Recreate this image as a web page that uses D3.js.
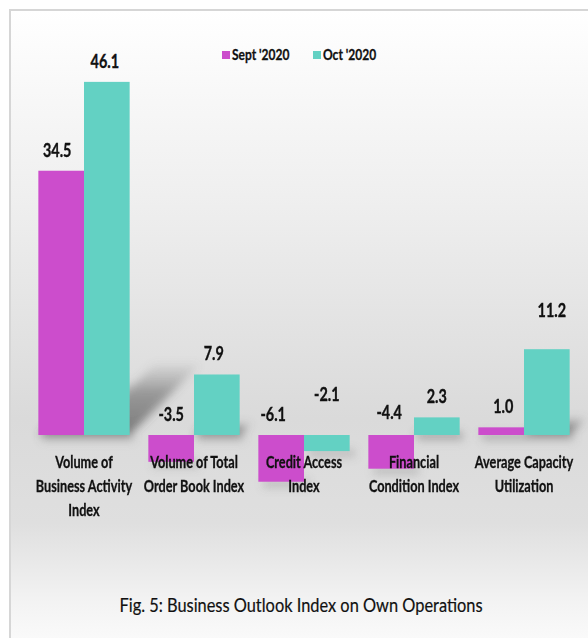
<!DOCTYPE html>
<html>
<head>
<meta charset="utf-8">
<script src="https://cdn.jsdelivr.net/npm/d3@7"></script>
<style>
  html, body { margin: 0; padding: 0; background: #fff; }
  svg { display: block; }
  text { font-family: Lato, "Open Sans", sans-serif; fill: #111; }
</style>
</head>
<body>
<svg id="chart" width="588" height="638"></svg>
<script>
// ---- data ----
const categories = [
  ["Volume of", "Business Activity", "Index"],
  ["Volume of Total", "Order Book Index"],
  ["Credit Access", "Index"],
  ["Financial", "Condition Index"],
  ["Average Capacity", "Utilization"]
];
const seriesNames = ["Sept '2020", "Oct '2020"];
const sept2020 = [34.5, -3.5, -6.1, -4.4, 1.0];
const oct2020  = [46.1, 7.9, -2.1, 2.3, 11.2];
const titleText = "Fig. 5: Business Outlook Index on Own Operations";

// ---- layout / style ----
const W = 588, H = 638;
const colors = ["#cc4dcc", "#63d1c3"];
const SX = 0.77; // horizontal condensing of the font (Calibri-like narrow look)
// label nudges (dx, dy) relative to default placement, per series & category
const labelNudge = [
  [[-4,0],[0,0],[-8,0],[-2,-2],[2,0]],
  [[-2,0],[-3,0],[0,-20],[0,0],[5,-18]]
];

const svg = d3.select("#chart");
const defs = svg.append("defs");

function label(g, x, y, str, size, weight, anchor, sx, stroke) {
  return g.append("text")
    .attr("transform", `translate(${x},${y}) scale(${sx || SX},1)`)
    .attr("text-anchor", anchor || "middle")
    .attr("font-size", size)
    .attr("font-weight", weight || "bold")
    .attr("stroke", stroke ? "#111" : null)
    .attr("stroke-width", stroke || null)
    .text(str);
}

const bg = defs.append("linearGradient").attr("id","bg").attr("x1",0).attr("y1",0).attr("x2",0).attr("y2",1);
[[0,"#ffffff"],[0.3,"#eeeeee"],[0.62,"#dadada"],[0.78,"#dfdfdf"],[0.9,"#f3f3f3"],[1,"#ffffff"]]
  .forEach(([o,c]) => bg.append("stop").attr("offset",o).attr("stop-color",c));

const sg = defs.append("linearGradient").attr("id","shadowGrad").attr("x1",0).attr("y1",1).attr("x2",0).attr("y2",0);
sg.append("stop").attr("offset",0).attr("stop-color","#444").attr("stop-opacity",0.65);
sg.append("stop").attr("offset",0.6).attr("stop-color","#555").attr("stop-opacity",0.5);
sg.append("stop").attr("offset",1).attr("stop-color","#777").attr("stop-opacity",0.08);

defs.append("filter").attr("id","blur").attr("x","-50%").attr("y","-50%").attr("width","200%").attr("height","200%")
  .append("feGaussianBlur").attr("stdDeviation",4);

// background + frame
svg.append("rect").attr("x",10).attr("y",10).attr("width",W+20).attr("height",H+20)
  .attr("fill","url(#bg)").attr("stroke","#d6d6d6").attr("stroke-width",2);

// scales
const x0 = d3.scaleBand().domain(d3.range(categories.length)).range([29, 579])
  .paddingInner(0.17).paddingOuter(0.085);
const x1 = d3.scaleBand().domain([0,1]).range([0, x0.bandwidth()]);
const y = d3.scaleLinear().domain([-10, 50]).range([435 + 76.6, 435 - 383]);

const data = [];
[sept2020, oct2020].forEach((vals, s) => vals.forEach((v, i) => data.push({s, i, v})));

// shadows
const k = 0.2;
const gShadow = svg.append("g").attr("filter","url(#blur)");
data.forEach(d => {
  const xa = x0(d.i) + x1(d.s), xb = xa + x1.bandwidth();
  const b = y(0), e = y(d.v);
  if (d.v >= 0) {
    const h = b - e;
    gShadow.append("polygon")
      .attr("points", [[xa,b],[xb,b],[xb+k*h,b-k*h],[xa+k*h,b-k*h]].map(p=>p.join(",")).join(" "))
      .attr("fill","url(#shadowGrad)");
    gShadow.append("rect").attr("x", xa+4).attr("y", b-2).attr("width", x1.bandwidth()).attr("height", 8)
      .attr("fill","#777").attr("opacity",0.35);
  } else {
    gShadow.append("rect").attr("x", xa+5).attr("y", e-2).attr("width", x1.bandwidth()).attr("height", 8)
      .attr("fill","#777").attr("opacity",0.3);
  }
});

// bars
svg.append("g").selectAll("rect").data(data).join("rect")
  .attr("x", d => x0(d.i) + x1(d.s))
  .attr("y", d => y(Math.max(0, d.v)))
  .attr("width", x1.bandwidth())
  .attr("height", d => Math.abs(y(d.v) - y(0)))
  .attr("fill", d => colors[d.s]);

// value labels
const gVal = svg.append("g");
data.forEach(d => {
  label(gVal,
    x0(d.i) + x1(d.s) + x1.bandwidth()/2 + labelNudge[d.s][d.i][0],
    (d.v >= 0 ? y(d.v) : y(0)) - 14 + labelNudge[d.s][d.i][1],
    d.v.toFixed(1), 18, "bold", "middle", 0.8, 0.35);
});

// category labels
const gCat = svg.append("g");
categories.forEach((lines, i) => {
  lines.forEach((ln, j) => label(gCat, x0(i) + x0.bandwidth()/2, 468 + j*24, ln, 16.5, "bold", "middle", SX, 0.3));
});

// legend
const lg = svg.append("g");
const legendX = [222, 313];
seriesNames.forEach((n, s) => {
  lg.append("rect").attr("x", legendX[s]).attr("y", 51).attr("width", 8).attr("height", 8).attr("fill", colors[s]);
  label(lg, legendX[s] + 10, 60, n, 15, "bold", "start", 0.8, 0.3);
});

// title
label(svg, 301, 612, titleText, 20, "normal", "middle", 0.82, 0.2);
</script>
</body>
</html>
